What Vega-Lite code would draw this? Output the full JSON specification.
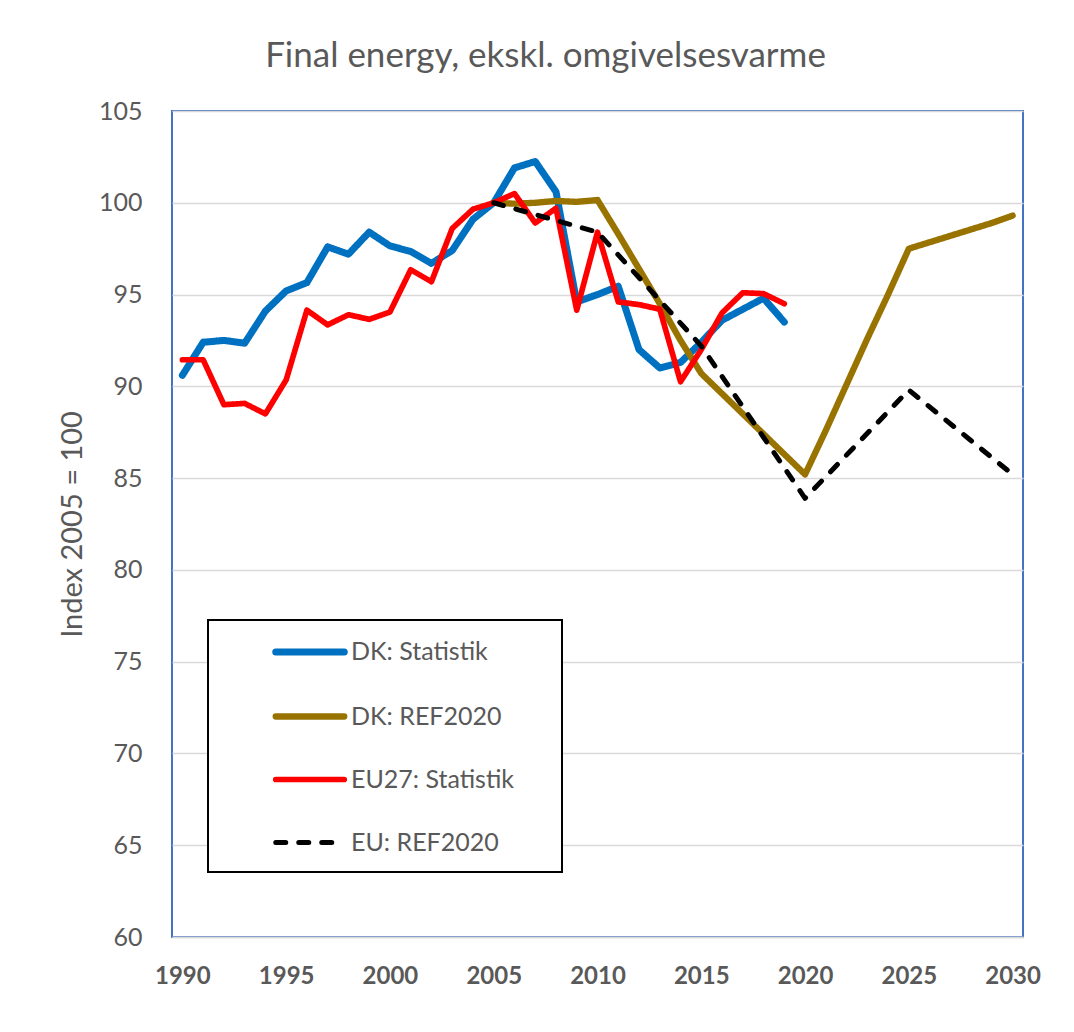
{
  "$schema": "https://vega.github.io/schema/vega-lite/v6.json",
  "width": 851,
  "height": 826,
  "autosize": {"type": "none"},
  "padding": {"left": 172, "top": 111, "right": 51, "bottom": 95},
  "background": "white",
  "title": {
    "text": "Final energy, ekskl. omgivelsesvarme",
    "font": "Lato",
    "fontSize": 35,
    "fontWeight": "normal",
    "color": "#595959",
    "anchor": "middle",
    "frame": "group",
    "baseline": "alphabetic",
    "offset": -3,
    "dx": -52
  },
  "config": {
    "font": "Lato",
    "view": {"stroke": "#4472C4", "strokeWidth": 2}
  },
  "data": {
    "values": [
      {"series": "DK: Statistik", "year": 1990, "value": 90.6},
      {"series": "DK: Statistik", "year": 1991, "value": 92.4},
      {"series": "DK: Statistik", "year": 1992, "value": 92.5},
      {"series": "DK: Statistik", "year": 1993, "value": 92.35},
      {"series": "DK: Statistik", "year": 1994, "value": 94.1},
      {"series": "DK: Statistik", "year": 1995, "value": 95.2},
      {"series": "DK: Statistik", "year": 1996, "value": 95.65},
      {"series": "DK: Statistik", "year": 1997, "value": 97.6},
      {"series": "DK: Statistik", "year": 1998, "value": 97.2},
      {"series": "DK: Statistik", "year": 1999, "value": 98.4},
      {"series": "DK: Statistik", "year": 2000, "value": 97.65},
      {"series": "DK: Statistik", "year": 2001, "value": 97.35},
      {"series": "DK: Statistik", "year": 2002, "value": 96.7},
      {"series": "DK: Statistik", "year": 2003, "value": 97.4},
      {"series": "DK: Statistik", "year": 2004, "value": 99.1},
      {"series": "DK: Statistik", "year": 2005, "value": 100},
      {"series": "DK: Statistik", "year": 2006, "value": 101.9},
      {"series": "DK: Statistik", "year": 2007, "value": 102.25},
      {"series": "DK: Statistik", "year": 2008, "value": 100.6},
      {"series": "DK: Statistik", "year": 2009, "value": 94.6},
      {"series": "DK: Statistik", "year": 2010, "value": 95.0},
      {"series": "DK: Statistik", "year": 2011, "value": 95.45},
      {"series": "DK: Statistik", "year": 2012, "value": 92.0},
      {"series": "DK: Statistik", "year": 2013, "value": 91.0},
      {"series": "DK: Statistik", "year": 2014, "value": 91.3},
      {"series": "DK: Statistik", "year": 2015, "value": 92.4},
      {"series": "DK: Statistik", "year": 2016, "value": 93.6},
      {"series": "DK: Statistik", "year": 2017, "value": 94.2},
      {"series": "DK: Statistik", "year": 2018, "value": 94.8},
      {"series": "DK: Statistik", "year": 2019, "value": 93.5},
      {"series": "DK: REF2020", "year": 2005, "value": 100},
      {"series": "DK: REF2020", "year": 2006, "value": 99.95},
      {"series": "DK: REF2020", "year": 2007, "value": 100.0},
      {"series": "DK: REF2020", "year": 2008, "value": 100.1},
      {"series": "DK: REF2020", "year": 2009, "value": 100.05},
      {"series": "DK: REF2020", "year": 2010, "value": 100.15},
      {"series": "DK: REF2020", "year": 2011, "value": 98.3},
      {"series": "DK: REF2020", "year": 2012, "value": 96.4},
      {"series": "DK: REF2020", "year": 2013, "value": 94.5},
      {"series": "DK: REF2020", "year": 2014, "value": 92.5},
      {"series": "DK: REF2020", "year": 2015, "value": 90.7},
      {"series": "DK: REF2020", "year": 2016, "value": 89.6},
      {"series": "DK: REF2020", "year": 2017, "value": 88.5},
      {"series": "DK: REF2020", "year": 2018, "value": 87.4},
      {"series": "DK: REF2020", "year": 2019, "value": 86.3},
      {"series": "DK: REF2020", "year": 2020, "value": 85.2},
      {"series": "DK: REF2020", "year": 2021, "value": 87.6},
      {"series": "DK: REF2020", "year": 2022, "value": 90.1},
      {"series": "DK: REF2020", "year": 2023, "value": 92.6},
      {"series": "DK: REF2020", "year": 2024, "value": 95.0},
      {"series": "DK: REF2020", "year": 2025, "value": 97.5},
      {"series": "DK: REF2020", "year": 2026, "value": 97.85},
      {"series": "DK: REF2020", "year": 2027, "value": 98.2},
      {"series": "DK: REF2020", "year": 2028, "value": 98.55},
      {"series": "DK: REF2020", "year": 2029, "value": 98.9},
      {"series": "DK: REF2020", "year": 2030, "value": 99.3},
      {"series": "EU27: Statistik", "year": 1990, "value": 91.45},
      {"series": "EU27: Statistik", "year": 1991, "value": 91.45},
      {"series": "EU27: Statistik", "year": 1992, "value": 89.0},
      {"series": "EU27: Statistik", "year": 1993, "value": 89.07},
      {"series": "EU27: Statistik", "year": 1994, "value": 88.5},
      {"series": "EU27: Statistik", "year": 1995, "value": 90.35},
      {"series": "EU27: Statistik", "year": 1996, "value": 94.15},
      {"series": "EU27: Statistik", "year": 1997, "value": 93.35},
      {"series": "EU27: Statistik", "year": 1998, "value": 93.9},
      {"series": "EU27: Statistik", "year": 1999, "value": 93.65},
      {"series": "EU27: Statistik", "year": 2000, "value": 94.05},
      {"series": "EU27: Statistik", "year": 2001, "value": 96.35},
      {"series": "EU27: Statistik", "year": 2002, "value": 95.7},
      {"series": "EU27: Statistik", "year": 2003, "value": 98.6},
      {"series": "EU27: Statistik", "year": 2004, "value": 99.65},
      {"series": "EU27: Statistik", "year": 2005, "value": 100},
      {"series": "EU27: Statistik", "year": 2006, "value": 100.5},
      {"series": "EU27: Statistik", "year": 2007, "value": 98.9},
      {"series": "EU27: Statistik", "year": 2008, "value": 99.7},
      {"series": "EU27: Statistik", "year": 2009, "value": 94.15},
      {"series": "EU27: Statistik", "year": 2010, "value": 98.4},
      {"series": "EU27: Statistik", "year": 2011, "value": 94.6},
      {"series": "EU27: Statistik", "year": 2012, "value": 94.45},
      {"series": "EU27: Statistik", "year": 2013, "value": 94.2},
      {"series": "EU27: Statistik", "year": 2014, "value": 90.25},
      {"series": "EU27: Statistik", "year": 2015, "value": 92.0},
      {"series": "EU27: Statistik", "year": 2016, "value": 94.0},
      {"series": "EU27: Statistik", "year": 2017, "value": 95.1},
      {"series": "EU27: Statistik", "year": 2018, "value": 95.05},
      {"series": "EU27: Statistik", "year": 2019, "value": 94.5},
      {"series": "EU: REF2020", "year": 2005, "value": 100},
      {"series": "EU: REF2020", "year": 2010, "value": 98.4},
      {"series": "EU: REF2020", "year": 2015, "value": 92.2},
      {"series": "EU: REF2020", "year": 2020, "value": 83.9},
      {"series": "EU: REF2020", "year": 2025, "value": 89.8},
      {"series": "EU: REF2020", "year": 2030, "value": 85.2}
    ]
  },
  "mark": {"type": "line", "strokeCap": "round", "strokeJoin": "round"},
  "encoding": {
    "x": {
      "field": "year",
      "type": "quantitative",
      "scale": {"domain": [1989.5, 2030.5], "nice": false, "zero": false},
      "axis": {
        "title": null,
        "values": [1990, 1995, 2000, 2005, 2010, 2015, 2020, 2025, 2030],
        "format": "d",
        "grid": false,
        "ticks": false,
        "domainColor": "#D9D9D9",
        "domainWidth": 1.5,
        "labelFont": "Lato",
        "labelFontSize": 24,
        "labelFontWeight": "bold",
        "labelColor": "#595959",
        "labelPadding": 27,
        "labelFlush": false
      }
    },
    "y": {
      "field": "value",
      "type": "quantitative",
      "scale": {"domain": [60, 105], "nice": false, "zero": false},
      "axis": {
        "title": "Index 2005 = 100",
        "titleFont": "Lato",
        "titleFontSize": 29,
        "titleFontWeight": "normal",
        "titleColor": "#595959",
        "titlePadding": 11,
        "values": [60, 65, 70, 75, 80, 85, 90, 95, 100, 105],
        "grid": true,
        "gridColor": "#D9D9D9",
        "gridWidth": 1.5,
        "ticks": false,
        "domain": false,
        "labelFont": "Lato",
        "labelFontSize": 25,
        "labelColor": "#595959",
        "labelPadding": 30
      }
    },
    "color": {
      "field": "series",
      "type": "nominal",
      "scale": {
        "domain": ["DK: Statistik", "DK: REF2020", "EU27: Statistik", "EU: REF2020"],
        "range": ["#0070C0", "#997300", "#FF0000", "#000000"]
      },
      "legend": {
        "title": null,
        "orient": "none",
        "legendX": 36,
        "legendY": 509,
        "fillColor": "white",
        "strokeColor": "#000000",
        "padding": 16,
        "rowPadding": 34.5,
        "symbolType": "M-2.74,0H2.74",
        "symbolSize": 625,
        "symbolOffset": 70,
        "labelOffset": 25,
        "labelFont": "Lato",
        "labelFontSize": 25,
        "labelColor": "#595959",
        "labelLimit": 400,
        "labelExpr": "datum.label + '\u2003\u2002\u200b'",
        "encode": {
          "symbols": {"update": {"strokeCap": {"value": "round"}, "fill": {"value": "transparent"}}},
          "legend": {"update": {"strokeWidth": {"value": 2}}}
        }
      }
    },
    "strokeWidth": {
      "field": "series",
      "type": "nominal",
      "scale": {
        "domain": ["DK: Statistik", "DK: REF2020", "EU27: Statistik", "EU: REF2020"],
        "range": [7, 5, 7, 6]
      },
      "legend": null
    },
    "strokeDash": {
      "field": "series",
      "type": "nominal",
      "scale": {
        "domain": ["DK: Statistik", "DK: REF2020", "EU27: Statistik", "EU: REF2020"],
        "range": [[1, 0], [1, 0], [1, 0], [10, 13]]
      },
      "legend": null
    }
  }
}
